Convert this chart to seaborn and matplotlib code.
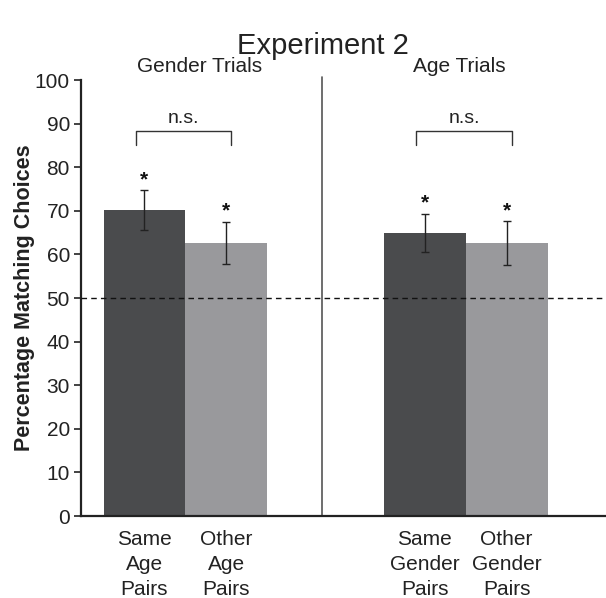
"""Experiment 2: matching choices by trial type"""

import matplotlib
matplotlib.use('Agg')
import matplotlib.pyplot as plt
import pandas as pd
import seaborn as sns

# data
trials = ['Gender Trials', 'Gender Trials', 'Age Trials', 'Age Trials']
pair_types = ['Same', 'Other', 'Same', 'Other']
means = [70.1, 62.6, 64.9, 62.6]
sems = [4.6, 4.8, 4.4, 5.0]
tick_labels = ['Same\nAge\nPairs', 'Other\nAge\nPairs',
               'Same\nGender\nPairs', 'Other\nGender\nPairs']
chance = 50

df = pd.DataFrame({'trial': trials, 'pair': pair_types, 'value': means})

sns.set_style('white')
plt.rcParams['font.family'] = ['Liberation Sans', 'DejaVu Sans']

fig = plt.figure(figsize=(6.06, 5.98), dpi=100)
ax = fig.add_axes([81 / 606, 82 / 598, 1 - 81 / 606, 436 / 598])

sns.barplot(data=df, x='trial', y='value', hue='pair',
            order=['Gender Trials', 'Age Trials'], hue_order=['Same', 'Other'],
            palette=['#4a4b4d', '#98999c'], width=0.583, gap=0,
            linewidth=0, legend=False, ax=ax)

bars = sorted(ax.patches, key=lambda p: p.get_x())
centers = [b.get_x() + b.get_width() / 2 for b in bars]

# error bars and significance stars
ax.errorbar(centers, means, yerr=sems, fmt='none', ecolor='#222222',
            elinewidth=1, capsize=2.6, capthick=1, zorder=3)
for x, m, s in zip(centers, means, sems):
    ax.text(x, m + s + 0.3, '*', ha='center', va='bottom',
            fontsize=15, fontweight='bold', color='#111111')

# n.s. brackets over each pair
for left, right in [(centers[0], centers[1]), (centers[2], centers[3])]:
    x0, x1 = left - 0.03, right + 0.018
    ax.plot([x0, x0, x1, x1], [85, 88.4, 88.4, 85], color='#333333',
            lw=1, clip_on=False)
    ax.text((x0 + x1) / 2, 89.2, 'n.s.', ha='center', va='bottom',
            fontsize=14, color='#222222')

# chance line and panel divider
ax.axhline(chance, color='#111111', lw=1, ls=(0, (4, 3)), zorder=4)
ax.axvline(0.4875, ymin=0, ymax=1.007, color='#555555', lw=1.2,
           clip_on=False)

ax.text(0.049, 103, 'Gender Trials', ha='center', va='center',
        fontsize=15, color='#222222', clip_on=False)
ax.text(0.978, 103, 'Age Trials', ha='center', va='center',
        fontsize=15, color='#222222', clip_on=False)
fig.text(322.5 / 606, 1 - 46 / 598, 'Experiment 2', ha='center',
         va='center', fontsize=21, color='#222222')

ax.set_xlim(-0.372, 1.5)
ax.set_ylim(0, 100)
ax.set_yticks(range(0, 101, 10))
ax.set_xticks(centers)
ax.set_xticklabels(tick_labels, fontsize=15, color='#222222',
                   linespacing=1.4)
ax.tick_params(axis='x', length=0, pad=10)
ax.tick_params(axis='y', direction='out', length=5, width=1.2,
               labelsize=15, pad=3, colors='#222222', left=True)
ax.set_xlabel('')
ax.set_ylabel('Percentage Matching Choices', fontsize=15.5,
              fontweight='bold', color='#222222', labelpad=0)

sns.despine(ax=ax)
for side in ['left', 'bottom']:
    ax.spines[side].set_color('#222222')
    ax.spines[side].set_linewidth(1.6)

fig.savefig('out.png', dpi=100)
